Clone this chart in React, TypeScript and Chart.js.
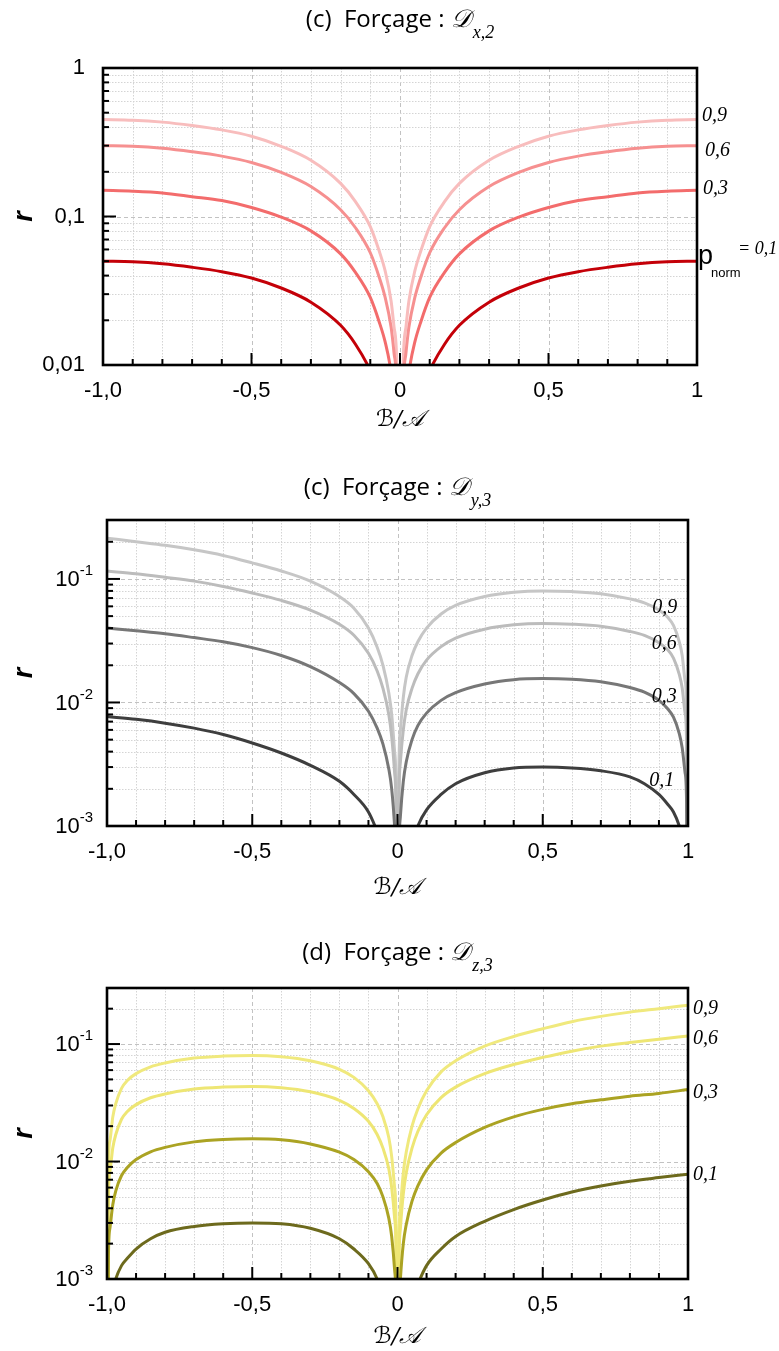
import React, { useEffect, useRef } from 'react';
import { Chart, registerables } from 'chart.js';

Chart.register(...registerables);

// ---------------- data ----------------
const X_TICKS = [-1, -0.5, 0, 0.5, 1];
const X_TICK_LABELS = ['-1,0', '-0,5', '0', '0,5', '1'];
const P_NAMES = ['0,1', '0,3', '0,6', '0,9'];

// Panel 1 : D x,2
const X1 = [-1, -0.9, -0.8, -0.7, -0.6, -0.5, -0.4, -0.3, -0.2, -0.15, -0.1, -0.07, -0.05, -0.03, -0.02, -0.01, 0,
  0.01, 0.02, 0.03, 0.05, 0.07, 0.1, 0.15, 0.2, 0.3, 0.4, 0.5, 0.6, 0.7, 0.8, 0.9, 1];
const R1_P01 = [0.05, 0.0495, 0.048, 0.0455, 0.0425, 0.0385, 0.033, 0.0265, 0.0185, 0.0138, 0.0092, 0.0065, 0.0048, 0.003, 0.002, 0.001, 0.0001,
  0.001, 0.002, 0.003, 0.0048, 0.0065, 0.0092, 0.0138, 0.0185, 0.0265, 0.033, 0.0385, 0.0425, 0.0455, 0.048, 0.0495, 0.05];
const R1_P03 = [0.15, 0.148, 0.144, 0.136, 0.128, 0.115, 0.099, 0.08, 0.056, 0.042, 0.0285, 0.0195, 0.0143, 0.009, 0.006, 0.003, 0.0001,
  0.003, 0.006, 0.009, 0.0143, 0.0195, 0.0285, 0.042, 0.056, 0.08, 0.099, 0.115, 0.128, 0.136, 0.144, 0.148, 0.15];
const R1_P06 = [0.3, 0.297, 0.288, 0.273, 0.255, 0.231, 0.198, 0.159, 0.111, 0.084, 0.057, 0.039, 0.0285, 0.018, 0.012, 0.006, 0.0001,
  0.006, 0.012, 0.018, 0.0285, 0.039, 0.057, 0.084, 0.111, 0.159, 0.198, 0.231, 0.255, 0.273, 0.288, 0.297, 0.3];
const R1_P09 = [0.45, 0.445, 0.432, 0.41, 0.383, 0.347, 0.297, 0.239, 0.167, 0.126, 0.0855, 0.0585, 0.043, 0.027, 0.018, 0.009, 0.0001,
  0.009, 0.018, 0.027, 0.043, 0.0585, 0.0855, 0.126, 0.167, 0.239, 0.297, 0.347, 0.383, 0.41, 0.432, 0.445, 0.45];

// Panel 2 : D y,3
const X2 = [-1, -0.9, -0.8, -0.7, -0.6, -0.5, -0.4, -0.3, -0.2, -0.15, -0.1, -0.07, -0.05, -0.03, -0.02, -0.01, -0.005, 0,
  0.005, 0.01, 0.02, 0.03, 0.05, 0.07, 0.1, 0.15, 0.2, 0.3, 0.4, 0.5, 0.6, 0.7, 0.8, 0.85, 0.9, 0.93, 0.95, 0.97, 0.98, 0.99, 0.995, 1];
const R2_P01 = [0.0077, 0.0073, 0.0068, 0.0062, 0.0055, 0.0047, 0.0039, 0.0031, 0.0023, 0.0018, 0.0013, 0.0009, 0.00065, 0.0004, 0.00027, 0.00013, 0.00007, 0.00001,
  0.00006, 0.00013, 0.00027, 0.0004, 0.0007, 0.001, 0.00135, 0.0018, 0.0022, 0.0027, 0.00295, 0.003, 0.00295, 0.0028, 0.0025, 0.0022, 0.0018, 0.0015, 0.0013, 0.001, 0.0008, 0.0005, 0.0003, 0.00001];
const R2_P03 = [0.04, 0.038, 0.036, 0.0335, 0.031, 0.0278, 0.024, 0.0195, 0.0145, 0.0118, 0.0085, 0.0062, 0.0046, 0.0029, 0.002, 0.001, 0.0005, 0.00001,
  0.0006, 0.0012, 0.0023, 0.0033, 0.005, 0.0065, 0.0082, 0.0104, 0.012, 0.0141, 0.0153, 0.0156, 0.0154, 0.0147, 0.0132, 0.0121, 0.0104, 0.0089, 0.0076, 0.0056, 0.0043, 0.0027, 0.0016, 0.00001];
const R2_P06 = [0.116, 0.11, 0.103, 0.096, 0.087, 0.077, 0.067, 0.056, 0.043, 0.035, 0.025, 0.018, 0.013, 0.008, 0.0053, 0.0027, 0.0013, 0.00001,
  0.0016, 0.0033, 0.006, 0.0087, 0.013, 0.017, 0.022, 0.0283, 0.0332, 0.0392, 0.0425, 0.0436, 0.043, 0.0414, 0.0376, 0.0349, 0.0305, 0.0267, 0.0229, 0.0169, 0.0131, 0.0082, 0.0049, 0.00001];
const R2_P09 = [0.214, 0.2, 0.187, 0.172, 0.155, 0.135, 0.116, 0.096, 0.072, 0.058, 0.04, 0.028, 0.02, 0.012, 0.008, 0.004, 0.002, 0.00001,
  0.003, 0.006, 0.011, 0.016, 0.024, 0.031, 0.04, 0.052, 0.061, 0.072, 0.078, 0.08, 0.079, 0.076, 0.069, 0.064, 0.056, 0.049, 0.042, 0.031, 0.024, 0.015, 0.009, 0.00001];

// Panel 3 : D z,3
const X3 = [-1, -0.995, -0.99, -0.98, -0.97, -0.95, -0.93, -0.9, -0.85, -0.8, -0.7, -0.6, -0.5, -0.4, -0.3, -0.2, -0.15, -0.1, -0.07, -0.05, -0.03, -0.02, -0.01, -0.005, 0,
  0.005, 0.01, 0.02, 0.03, 0.05, 0.07, 0.1, 0.15, 0.2, 0.3, 0.4, 0.5, 0.6, 0.7, 0.8, 0.9, 1];
const R3_P01 = [0.00001, 0.0003, 0.0005, 0.0008, 0.001, 0.0013, 0.0015, 0.0018, 0.0022, 0.0025, 0.0028, 0.00295, 0.003, 0.00295, 0.0027, 0.0022, 0.0018, 0.00135, 0.001, 0.0007, 0.0004, 0.00027, 0.00013, 0.00006, 0.00001,
  0.00007, 0.00013, 0.00027, 0.0004, 0.00065, 0.0009, 0.0013, 0.0018, 0.0023, 0.0031, 0.0039, 0.0047, 0.0055, 0.0062, 0.0068, 0.0073, 0.0078];
const R3_P03 = [0.00001, 0.0016, 0.0027, 0.0043, 0.0056, 0.0076, 0.0089, 0.0104, 0.0121, 0.0132, 0.0147, 0.0154, 0.0156, 0.0153, 0.0141, 0.012, 0.0104, 0.0082, 0.0065, 0.005, 0.0033, 0.0023, 0.0012, 0.0006, 0.00001,
  0.0005, 0.001, 0.002, 0.0029, 0.0046, 0.0062, 0.0085, 0.0118, 0.0145, 0.0195, 0.024, 0.0278, 0.031, 0.0335, 0.036, 0.038, 0.041];
const R3_P06 = [0.00001, 0.0049, 0.0082, 0.0131, 0.0169, 0.0229, 0.0267, 0.0305, 0.0349, 0.0376, 0.0414, 0.043, 0.0436, 0.0425, 0.0392, 0.0332, 0.0283, 0.022, 0.017, 0.013, 0.0087, 0.006, 0.0033, 0.0016, 0.00001,
  0.0013, 0.0027, 0.0053, 0.008, 0.013, 0.018, 0.025, 0.035, 0.043, 0.056, 0.067, 0.077, 0.087, 0.096, 0.103, 0.11, 0.117];
const R3_P09 = [0.00001, 0.009, 0.015, 0.024, 0.031, 0.042, 0.049, 0.056, 0.064, 0.069, 0.076, 0.079, 0.08, 0.078, 0.072, 0.061, 0.052, 0.04, 0.031, 0.024, 0.016, 0.011, 0.006, 0.003, 0.00001,
  0.002, 0.004, 0.008, 0.012, 0.02, 0.028, 0.04, 0.058, 0.072, 0.096, 0.116, 0.135, 0.155, 0.172, 0.187, 0.2, 0.214];

const Y1_DECADES = [0.01, 0.1, 1];
const Y1_DECADE_LABELS = ['0,01', '0,1', '1'];
const Y23_DECADES = [0.001, 0.01, 0.1];
const Y23_DECADE_EXPS = ['-3', '-2', '-1'];

const COLORS1 = ['#c40008', '#f36c6c', '#f69090', '#f8bdbd'];
const COLORS2 = ['#3e3e3e', '#777777', '#bcbcbc', '#c6c6c6'];
const COLORS3 = ['#6d6a1d', '#aba323', '#eee674', '#f0e97d'];

// ---------------- styling ----------------
const SANS = '"Liberation Sans", Arial, sans-serif';
const SERIF = '"Liberation Serif", "Times New Roman", serif';
const TITLE_FONT = '"Open Sans", sans-serif';
const MATH = '"DejaVu Serif", "DejaVu Sans", serif';

type CurveLabel = {
  text: string;
  series?: number;
  at?: [number, number];
  dx: number;
  dy: number;
  align: CanvasTextAlign;
  pnorm?: boolean;
};

type PanelSpec = {
  key: string;
  top: number;
  height: number;
  pad: { left: number; right: number; top: number; bottom: number };
  xAxisH: number;
  yMin: number;
  yMax: number;
  decades: number[];
  decadeLabels?: string[];
  decadeExps?: string[];
  titlePrefix: string;
  titleSub: string;
  titleBaseline: number;
  xTitleOffset: number;
  xs: number[];
  values: number[][];
  colors: string[];
  labels: CurveLabel[];
};

const PANELS: PanelSpec[] = [
  {
    key: 'p1', top: 0, height: 450,
    pad: { left: 103, right: 82, top: 68, bottom: 15 }, xAxisH: 70,
    yMin: 0.01, yMax: 1, decades: Y1_DECADES, decadeLabels: Y1_DECADE_LABELS,
    titlePrefix: '(c)  Forçage : ', titleSub: 'x,2', titleBaseline: 27, xTitleOffset: 55,
    xs: X1, values: [R1_P01, R1_P03, R1_P06, R1_P09], colors: COLORS1,
    labels: [
      { text: P_NAMES[3], series: 3, dx: 5, dy: -4, align: 'left' },
      { text: P_NAMES[2], series: 2, dx: 8, dy: 5, align: 'left' },
      { text: P_NAMES[1], series: 1, dx: 6, dy: -2, align: 'left' },
      { text: P_NAMES[0], series: 0, dx: 1, dy: 0, align: 'left', pnorm: true },
    ],
  },
  {
    key: 'p2', top: 450, height: 460,
    pad: { left: 107, right: 91, top: 70, bottom: 14 }, xAxisH: 70,
    yMin: 0.001, yMax: 0.3, decades: Y23_DECADES, decadeExps: Y23_DECADE_EXPS,
    titlePrefix: '(c)  Forçage : ', titleSub: 'y,3', titleBaseline: 45, xTitleOffset: 62,
    xs: X2, values: [R2_P01, R2_P03, R2_P06, R2_P09], colors: COLORS2,
    labels: [
      { text: P_NAMES[3], at: [0.92, 0.058], dx: 0, dy: 0, align: 'center' },
      { text: P_NAMES[2], at: [0.918, 0.03], dx: 0, dy: 0, align: 'center' },
      { text: P_NAMES[1], at: [0.918, 0.0112], dx: 0, dy: 0, align: 'center' },
      { text: P_NAMES[0], at: [0.91, 0.00234], dx: 0, dy: 0, align: 'center' },
    ],
  },
  {
    key: 'p3', top: 910, height: 441,
    pad: { left: 107, right: 91, top: 78, bottom: 2 }, xAxisH: 70,
    yMin: 0.001, yMax: 0.3, decades: Y23_DECADES, decadeExps: Y23_DECADE_EXPS,
    titlePrefix: '(d)  Forçage : ', titleSub: 'z,3', titleBaseline: 50, xTitleOffset: 58,
    xs: X3, values: [R3_P01, R3_P03, R3_P06, R3_P09], colors: COLORS3,
    labels: [
      { text: P_NAMES[3], series: 3, dx: 5, dy: 4, align: 'left' },
      { text: P_NAMES[2], series: 2, dx: 5, dy: 3, align: 'left' },
      { text: P_NAMES[1], series: 1, dx: 5, dy: 3, align: 'left' },
      { text: P_NAMES[0], series: 0, dx: 5, dy: 1, align: 'left' },
    ],
  },
];

function logLines(min: number, max: number) {
  const out: { v: number; major: boolean }[] = [];
  const d0 = Math.floor(Math.log10(min));
  const d1 = Math.ceil(Math.log10(max));
  for (let d = d0; d <= d1; d++) {
    for (let m = 1; m <= 9; m++) {
      const v = Number((m * Math.pow(10, d)).toPrecision(6));
      if (v > min * 1.0001 && v < max * 0.9999) out.push({ v, major: m === 1 });
    }
  }
  return out;
}

function seg(ctx: CanvasRenderingContext2D, x1: number, y1: number, x2: number, y2: number) {
  ctx.beginPath();
  ctx.moveTo(x1, y1);
  ctx.lineTo(x2, y2);
  ctx.stroke();
}

function makePlugin(spec: PanelSpec) {
  return {
    id: 'decor_' + spec.key,
    beforeDatasetsDraw(chart: any) {
      const { ctx, chartArea: a } = chart;
      const xs = chart.scales.x;
      const ys = chart.scales.y;
      ctx.save();
      ctx.beginPath();
      ctx.rect(a.left, a.top, a.right - a.left, a.bottom - a.top);
      ctx.clip();
      ctx.lineWidth = 1;
      for (let i = -9; i <= 9; i++) {
        const px = Math.round(xs.getPixelForValue(i / 10)) + 0.5;
        const major = i % 5 === 0;
        ctx.strokeStyle = major ? '#c2c2c2' : '#d4d4d4';
        ctx.setLineDash(major ? [4, 3] : [1.5, 1.5]);
        seg(ctx, px, a.top, px, a.bottom);
      }
      for (const { v, major } of logLines(spec.yMin, spec.yMax)) {
        const py = Math.round(ys.getPixelForValue(v)) + 0.5;
        ctx.strokeStyle = major ? '#c2c2c2' : '#d4d4d4';
        ctx.setLineDash(major ? [4, 3] : [1.5, 1.5]);
        seg(ctx, a.left, py, a.right, py);
      }
      ctx.restore();
    },
    afterDatasetsDraw(chart: any) {
      const { ctx, chartArea: a } = chart;
      const xs = chart.scales.x;
      const ys = chart.scales.y;
      ctx.save();
      ctx.setLineDash([]);
      ctx.strokeStyle = '#000';
      // ticks
      ctx.lineWidth = 2;
      for (let i = -9; i <= 9; i++) {
        const px = xs.getPixelForValue(i / 10);
        const len = i % 5 === 0 ? 12 : 6;
        seg(ctx, px, a.bottom, px, a.bottom - len);
      }
      for (const { v, major } of logLines(spec.yMin, spec.yMax)) {
        const py = ys.getPixelForValue(v);
        seg(ctx, a.left, py, a.left + (major ? 13 : 6), py);
      }
      // frame
      ctx.lineWidth = 2.6;
      ctx.strokeRect(a.left, a.top, a.right - a.left, a.bottom - a.top);

      ctx.fillStyle = '#000';
      // y tick labels
      ctx.textBaseline = 'middle';
      spec.decades.forEach((d, i) => {
        const py = ys.getPixelForValue(d);
        if (spec.decadeLabels) {
          ctx.font = `22px ${SANS}`;
          ctx.textAlign = 'right';
          ctx.fillText(spec.decadeLabels[i], a.left - 18, py);
        } else if (spec.decadeExps) {
          const exp = spec.decadeExps[i];
          ctx.font = `15px ${SANS}`;
          const we = ctx.measureText(exp).width;
          ctx.textAlign = 'right';
          const right = a.left - 14;
          ctx.fillText(exp, right, py - 8);
          ctx.font = `22px ${SANS}`;
          ctx.fillText('10', right - we, py + 1);
        }
      });

      // curve labels
      for (const lb of spec.labels) {
        let px: number;
        let py: number;
        if (lb.at) {
          px = xs.getPixelForValue(lb.at[0]) + lb.dx;
          py = ys.getPixelForValue(lb.at[1]) + lb.dy;
        } else {
          const vals = spec.values[lb.series as number];
          px = a.right + lb.dx;
          py = ys.getPixelForValue(vals[vals.length - 1]) + lb.dy;
        }
        if (lb.pnorm) {
          ctx.textAlign = 'left';
          ctx.textBaseline = 'alphabetic';
          ctx.font = `27px ${SANS}`;
          ctx.fillText('p', px, py + 3);
          ctx.font = `13px ${SANS}`;
          ctx.fillText('norm', px + 13, py + 16);
          ctx.font = `italic 18px ${SERIF}`;
          ctx.fillText('= ' + lb.text, px + 40, py - 7);
          ctx.textBaseline = 'middle';
        } else {
          ctx.textAlign = lb.align;
          ctx.textBaseline = 'middle';
          ctx.font = `italic 20px ${SERIF}`;
          ctx.fillText(lb.text, px, py);
        }
      }

      // x-axis title
      const cx = (a.left + a.right) / 2;
      ctx.textAlign = 'center';
      ctx.textBaseline = 'middle';
      ctx.font = `italic 23px ${MATH}`;
      ctx.fillText('ℬ/𝒜', cx, a.bottom + spec.xTitleOffset);

      // y-axis title
      ctx.save();
      ctx.translate(25, (a.top + a.bottom) / 2);
      ctx.rotate(-Math.PI / 2);
      ctx.font = `bold italic 27px ${SANS}`;
      ctx.textAlign = 'center';
      ctx.textBaseline = 'middle';
      ctx.fillText('r', 0, 0);
      ctx.restore();

      // chart title
      ctx.textAlign = 'left';
      ctx.textBaseline = 'alphabetic';
      ctx.font = `24px ${TITLE_FONT}`;
      const w1 = ctx.measureText(spec.titlePrefix).width;
      ctx.font = `italic 25px ${MATH}`;
      const w2 = ctx.measureText('𝒟').width;
      ctx.font = `italic 18px ${SERIF}`;
      const w3 = ctx.measureText(spec.titleSub).width;
      let tx = cx - (w1 + w2 + w3 + 2) / 2;
      ctx.font = `24px ${TITLE_FONT}`;
      ctx.fillText(spec.titlePrefix, tx, spec.titleBaseline);
      tx += w1;
      ctx.font = `italic 25px ${MATH}`;
      ctx.fillText('𝒟', tx, spec.titleBaseline);
      tx += w2 + 2;
      ctx.font = `italic 18px ${SERIF}`;
      ctx.fillText(spec.titleSub, tx, spec.titleBaseline + 11);
      ctx.restore();
    },
  };
}

function buildConfig(spec: PanelSpec): any {
  return {
    type: 'line',
    data: {
      datasets: spec.values.map((vals, si) => ({
        label: 'p = ' + P_NAMES[si],
        data: spec.xs.map((x, i) => ({ x, y: vals[i] })),
        borderColor: spec.colors[si],
        backgroundColor: spec.colors[si],
        borderWidth: 3,
        pointRadius: 0,
        fill: false,
        cubicInterpolationMode: 'monotone',
        clip: 0,
      })),
    },
    options: {
      responsive: false,
      animation: false,
      devicePixelRatio: 1,
      events: [],
      layout: { padding: spec.pad },
      plugins: { legend: { display: false }, tooltip: { enabled: false }, title: { display: false } },
      scales: {
        x: {
          type: 'linear',
          min: -1,
          max: 1,
          position: 'bottom',
          grid: { display: false, drawTicks: false },
          border: { display: false },
          ticks: {
            autoSkip: false,
            maxRotation: 0,
            padding: 13,
            color: '#000',
            font: { family: SANS, size: 22 },
            callback: (value: number) => {
              const i = X_TICKS.findIndex((t) => Math.abs(t - value) < 1e-9);
              return i >= 0 ? X_TICK_LABELS[i] : '';
            },
          },
          afterBuildTicks: (s: any) => {
            s.ticks = X_TICKS.map((v) => ({ value: v }));
          },
          afterFit: (s: any) => {
            s.height = spec.xAxisH;
          },
        },
        y: {
          type: 'logarithmic',
          min: spec.yMin,
          max: spec.yMax,
          position: 'left',
          grid: { display: false, drawTicks: false },
          border: { display: false },
          ticks: { display: false },
          afterFit: (s: any) => {
            s.width = 0;
          },
        },
      },
    },
    plugins: [makePlugin(spec)],
  };
}

function Panel({ spec }: { spec: PanelSpec }) {
  const ref = useRef<HTMLCanvasElement | null>(null);
  useEffect(() => {
    const canvas = ref.current;
    if (!canvas) return;
    const chart = new Chart(canvas, buildConfig(spec));
    return () => chart.destroy();
  }, [spec]);
  return (
    <canvas
      ref={ref}
      width={779}
      height={spec.height}
      style={{ position: 'absolute', left: 0, top: spec.top, width: 779, height: spec.height, display: 'block' }}
    />
  );
}

export default function App() {
  return (
    <div style={{ position: 'absolute', left: 0, top: 0, width: 779, height: 1351, background: '#fff', overflow: 'hidden' }}>
      {PANELS.map((p) => (
        <Panel key={p.key} spec={p} />
      ))}
    </div>
  );
}
